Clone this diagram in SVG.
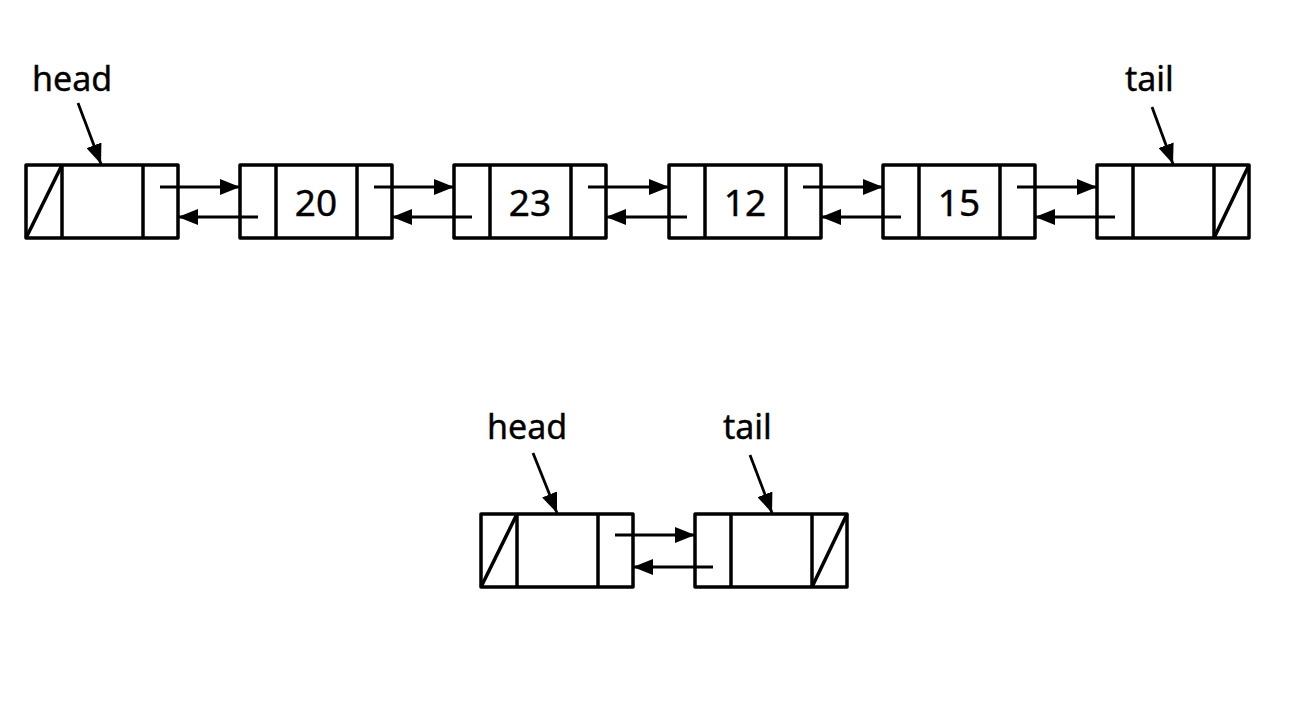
<svg xmlns="http://www.w3.org/2000/svg" width="1302" height="722" viewBox="0 0 1302 722">
<style>
.box{fill:none;stroke:#000;stroke-width:3.5;stroke-linejoin:round}
.ln{stroke:#000;stroke-width:3.5;fill:none}
.ar{stroke:#000;stroke-width:2.8;fill:none;marker-end:url(#ah)}
.lbl{font-family:"Noto Sans","Open Sans",sans-serif;font-size:34px;fill:#000;stroke:#000;stroke-width:0.4}
.num{font-family:"Noto Sans","Open Sans",sans-serif;font-size:37px;fill:#000;text-anchor:middle;stroke:#000;stroke-width:0.4}
</style>
<defs>
<marker id="ah" viewBox="0 0 20 16" refX="20" refY="8" markerWidth="20" markerHeight="16" markerUnits="userSpaceOnUse" orient="auto">
<path d="M0,0 L20,8 L0,16 z" fill="#000"/>
</marker>
<g id="cell">
<rect class="box" x="0" y="0" width="152" height="73"/>
<line class="ln" x1="36" y1="0" x2="36" y2="73"/>
<line class="ln" x1="117" y1="0" x2="117" y2="73"/>
</g>
</defs>
<rect width="1302" height="722" fill="#fff"/>
<g id="n1" transform="translate(26,165)"><use href="#cell"/><line class="ln" x1="0" y1="73" x2="36" y2="0"/></g>
<g id="n2" transform="translate(240,165)"><use href="#cell"/><text class="num" x="76" y="51">20</text></g>
<g id="n3" transform="translate(454,165)"><use href="#cell"/><text class="num" x="76" y="51">23</text></g>
<g id="n4" transform="translate(669,165)"><use href="#cell"/><text class="num" x="76" y="51">12</text></g>
<g id="n5" transform="translate(883,165)"><use href="#cell"/><text class="num" x="76" y="51">15</text></g>
<g id="n6" transform="translate(1097,165)"><use href="#cell"/><line class="ln" x1="117" y1="73" x2="152" y2="0"/></g>
<g id="b1" transform="translate(481,514)"><use href="#cell"/><line class="ln" x1="0" y1="73" x2="36" y2="0"/></g>
<g id="b2" transform="translate(695,514)"><use href="#cell"/><line class="ln" x1="117" y1="73" x2="152" y2="0"/></g>
<g id="labels">
<text class="lbl" x="32" y="91">head</text>
<text class="lbl" x="1125" y="91">tail</text>
<text class="lbl" x="487" y="439">head</text>
<text class="lbl" x="723" y="439">tail</text>
</g>
<g id="connectors">
<line class="ar" x1="78" y1="103" x2="101" y2="164"/>
<line class="ar" x1="1152" y1="107" x2="1173" y2="164"/>
<line class="ar" x1="533" y1="453" x2="557" y2="513"/>
<line class="ar" x1="750" y1="455" x2="772" y2="513"/>
<line class="ar" x1="160" y1="187" x2="240" y2="187"/>
<line class="ar" x1="258" y1="217" x2="178" y2="217"/>
<line class="ar" x1="374" y1="187" x2="454" y2="187"/>
<line class="ar" x1="472" y1="217" x2="392" y2="217"/>
<line class="ar" x1="588" y1="187" x2="669" y2="187"/>
<line class="ar" x1="687" y1="217" x2="606" y2="217"/>
<line class="ar" x1="803" y1="187" x2="883" y2="187"/>
<line class="ar" x1="901" y1="217" x2="821" y2="217"/>
<line class="ar" x1="1017" y1="187" x2="1097" y2="187"/>
<line class="ar" x1="1115" y1="217" x2="1035" y2="217"/>
<line class="ar" x1="615" y1="535" x2="695" y2="535"/>
<line class="ar" x1="713" y1="567" x2="633" y2="567"/>
</g>
</svg>
